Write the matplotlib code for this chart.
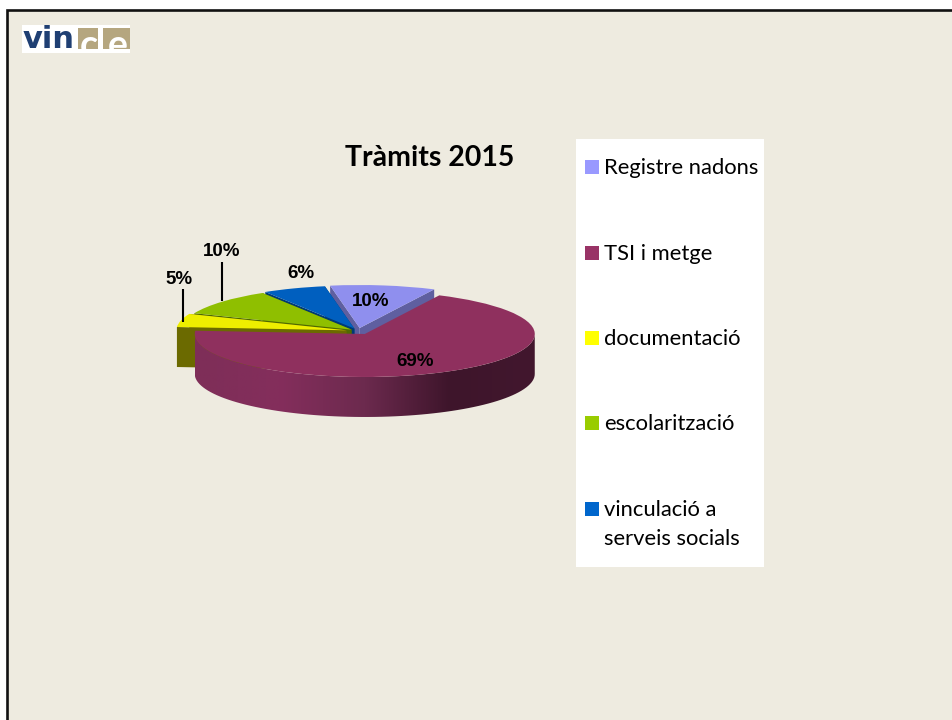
# -*- coding: utf-8 -*-
"""
Tramits 2015 exploded pie with fake 3D sides
"""

import numpy as np
import matplotlib
matplotlib.use('Agg')
import matplotlib.pyplot as plt
from matplotlib.colors import LinearSegmentedColormap
from matplotlib.patches import Polygon, Rectangle

title = "Tràmits 2015"
categories = ["Registre nadons", "TSI i metge", "documentació", "escolarització",
              "vinculació a\nserveis socials"]
values = [10, 69, 5, 10, 6]
legend_colors = ["#9999FF", "#993366", "#FFFF00", "#99CC00", "#0066CC"]
top_colors = ["#8F8FEE", "#8F305E", "#EEEE00", "#8FBF00", "#005FBF"]
side_colors = ["#5F5FA0", "#5A2040", "#6B6A00", "#4F6A00", "#003A75"]
side_ramp = ["#7E2E58", "#842E5C", "#6C2A4E", "#3E152B", "#42172E"]

W, H = 953, 720
BG = "#EEEBE0"
START = 100
EXPLODE = [0.07, 0.08, 0.07, 0.05, 0.06]
SIDE_Z = [2.0, 3.0, 2.3, 2.2, 2.1]  # back to front
RX, RY, DEPTH = 170.0, 43.0, 40.0  # pixels
CX, CY = 358.0, 331.0

fig = plt.figure(figsize=(W / 100, H / 100), dpi=100, facecolor="white")

# page layer, in pixels
page = fig.add_axes([0, 0, 1, 1], zorder=0)
page.set_xlim(0, W)
page.set_ylim(H, 0)
page.axis("off")
page.add_patch(Rectangle((7, 10), W + 20, H + 20, fc=BG, ec="#111111", lw=1.9))

# pie layer: one unit is RX wide and RY high
x0, x1, y0, y1 = -1.5, 1.5, -2.5, 1.5
pie_ax = fig.add_axes([(CX + x0 * RX) / W, 1 - (CY - y0 * RY) / H,
                       (x1 - x0) * RX / W, (y1 - y0) * RY / H], zorder=1)
wedges, _ = pie_ax.pie(values, colors=top_colors, startangle=START, counterclock=False,
                       explode=EXPLODE, radius=1.0,
                       wedgeprops=dict(linewidth=0))
pie_ax.set_aspect("auto")
d = DEPTH / RY


def ring(w, a, b, n=80):
    t = np.radians(np.linspace(a, b, n))
    return np.column_stack([w.center[0] + np.cos(t), w.center[1] + np.sin(t)])


# sides of the slices
for i, w in enumerate(wedges):
    w.set_zorder(3.5 if i == 1 else 2.5)
    if i == 1:
        continue
    for ang in (w.theta1, w.theta2):
        p = ring(w, ang, ang, 1)[0]
        c = np.array(w.center)
        quad = [c, p, p - [0, d], c - [0, d]]
        pie_ax.add_patch(Polygon(quad, fc=side_colors[i], ec="none", zorder=SIDE_Z[i]))

# big slice: front wall with a dark ramp from left to right
big = wedges[1]
arc = ring(big, 180, 360)
wall = np.vstack([arc, (arc - [0, d])[::-1]])
wall_patch = Polygon(wall, fc="none", ec="none", transform=pie_ax.transData)
pie_ax.add_patch(wall_patch)
ramp = LinearSegmentedColormap.from_list("ramp", side_ramp)
img = pie_ax.imshow(np.linspace(0, 1, 256)[None, :], cmap=ramp, aspect="auto", zorder=3,
                    extent=[big.center[0] - 1, big.center[0] + 1, big.center[1] - 1 - d, big.center[1]])
img.set_clip_path(wall_patch)
pie_ax.set_xlim(x0, x1)
pie_ax.set_ylim(y0, y1)
pie_ax.axis("off")

# text layer
top = fig.add_axes([0, 0, 1, 1], zorder=2)
top.set_xlim(0, W)
top.set_ylim(H, 0)
top.axis("off")

top.text(429.5, 158, title, fontsize=20.5, fontweight="bold", family="Lato",
         ha="center", va="center", color="black")

label_xy = [(371, 302), (415, 362), (179, 279), (222, 252), (301, 273)]
for v, (x, y) in zip(values, label_xy):
    top.text(x, y, f"{v}%", fontsize=13.5, fontweight="bold", family="Liberation Sans",
             ha="center", va="center", color="black")
top.plot([183, 183], [289, 322], color="black", lw=1.5, solid_capstyle="butt")
top.plot([222, 222], [262, 301], color="black", lw=1.5, solid_capstyle="butt")

# legend box
top.add_patch(Rectangle((576, 139), 188, 428, fc="white", ec="none"))
legend_y = [167, 253, 338, 423, 509]
for name, col, y in zip(categories, legend_colors, legend_y):
    top.add_patch(Rectangle((585, y - 7), 14, 14, fc=col, ec="none"))
    top.text(604, y - 9, name, fontsize=15.8, family="Lato", ha="left", va="top",
             color="black", linespacing=1.55)

# logo, cut off at the top like the slide
top.add_patch(Rectangle((22, 25), 108, 28, fc="white", ec="none"))
top.text(23, 48, "vin", fontsize=22, fontweight="bold", family="DejaVu Sans", color="#1F3F73",
         ha="left", va="baseline")
for x, w, ch in [(78, 20, "c"), (103, 27, "e")]:
    box = Rectangle((x, 28), w, 21, fc="#B5A67F", ec="none")
    top.add_patch(box)
    t = top.text(x + w * 0.56, 57, ch, fontsize=27, fontweight="bold", family="Lato",
                 color="white", ha="center", va="baseline")
    t.set_clip_on(True)
    t.set_clip_path(Rectangle((x - 2, 30), w + 4, 23, transform=top.transData))

fig.savefig("out.png", dpi=100, facecolor=fig.get_facecolor())
